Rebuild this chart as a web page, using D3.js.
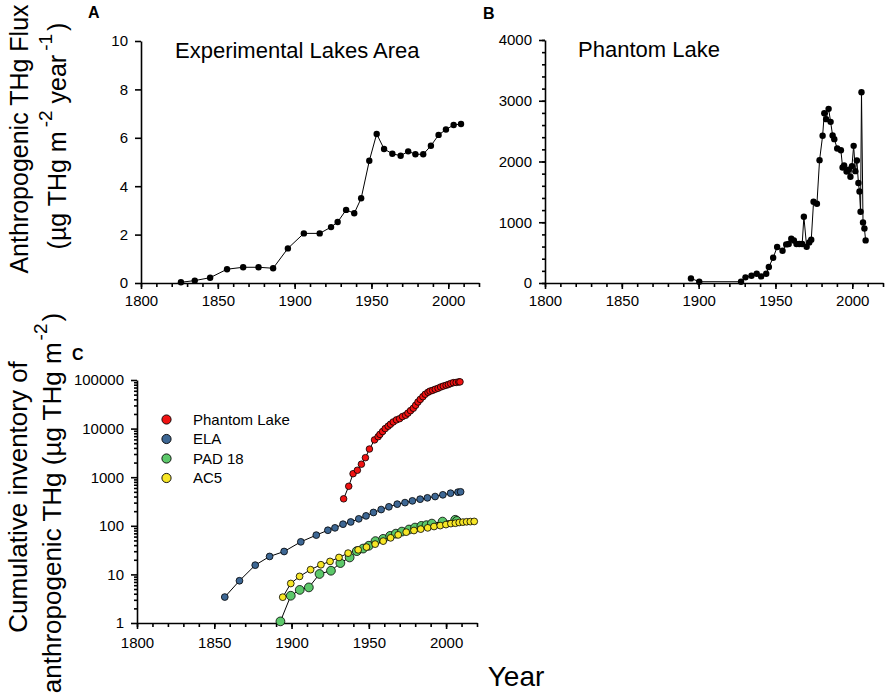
<!DOCTYPE html>
<html>
<head>
<meta charset="utf-8">
<script src="https://cdn.jsdelivr.net/npm/d3@7"></script>
<style>
  body { margin: 0; background: #fff; }
  svg { font-family: "Liberation Sans", Arial, sans-serif; }
  .axis path, .axis line { stroke: #000; stroke-width: 1.6; }
  .axis text { font-size: 15px; fill: #000; font-family: "Liberation Sans", Arial, sans-serif; }
</style>
</head>
<body>
<svg id="fig" width="886" height="693"></svg>
<script>
// Data -----------------------------------------
// A: Experimental Lakes Area flux (ug THg m-2 yr-1)
var elaYears = [1826, 1835, 1845, 1856, 1866.5, 1876.5, 1886, 1895.6, 1906, 1916.3, 1923.7, 1928,
  1933.5, 1938.8, 1943.3, 1948.6, 1953.4, 1958.2, 1963.6, 1969, 1973.9, 1978.6, 1983.7, 1988.7,
  1993.7, 1998.5, 2003.5, 2008.3];
var elaFlux = [0.03, 0.1, 0.22, 0.57, 0.65, 0.65, 0.61, 1.43, 2.05, 2.05, 2.31, 2.52,
  3.02, 2.88, 3.5, 5.05, 6.16, 5.54, 5.34, 5.26, 5.44, 5.32, 5.32, 5.67,
  6.12, 6.34, 6.53, 6.57];

// B: Phantom Lake flux
var phantomYears = [1895, 1900.4, 1927.6, 1930.5, 1934.4, 1937.8, 1940.7, 1944, 1945.7, 1948.5,
  1951.1, 1954.6, 1957, 1958.6, 1960.3, 1962, 1963.7, 1965.5, 1967.4, 1968.5, 1970.3, 1972,
  1973.3, 1974.8, 1977, 1978.7, 1980.7, 1981.8, 1983, 1984.6, 1985.9, 1987.2, 1988.3, 1990.2,
  1992.6, 1993.7, 1994.7, 1996.3, 1997.6, 1998.8, 1999.8, 2000.9, 2002, 2003, 2004, 2004.7,
  2005.4, 2006, 2007, 2007.9, 2008.7];
var phantomFlux = [76, 21, 21, 93, 120, 153, 109, 153, 263, 416,
  592, 531, 635, 641, 729, 700, 641, 641, 641, 1090, 597, 668,
  712, 1337, 1305, 2022, 2423, 2796, 2697, 2867, 2653, 2428, 2368, 2214,
  2184, 1901, 1934, 1836, 1863, 1748, 1924, 2258, 1841, 2017, 1645, 1507,
  1173, 3141, 997, 898, 701];

// C: cumulative inventories (ug THg m-2)
var cumPhantomYears = [1933.7, 1937, 1939.8, 1942.6, 1945.2, 1947.8, 1950.4, 1953.7, 1956, 1957.2,
  1958.9, 1960.6, 1962.5, 1964, 1965.8, 1967.9, 1969.9, 1971.8, 1973.8, 1975.3, 1977, 1978.8,
  1980.3, 1981.8, 1983.3, 1985, 1986.5, 1988.3, 1989.6, 1991.3, 1993, 1994.8, 1996.5, 1998.2,
  2000, 2001.5, 2003, 2004.7, 2006.5, 2008.2, 2009];
var cumPhantom = [359, 651, 1180, 1390, 1850, 2520, 3800, 5850, 6800, 7600,
  8700, 10000, 11200, 12300, 13700, 15100, 16000, 17700, 18800, 20800, 23400, 26200,
  30200, 35300, 39900, 45400, 50900, 55900, 59000, 61200, 64500, 67600, 71700, 74900,
  77900, 81000, 84500, 88100, 89000, 91300, 91500];

var cumElaYears = [1856.8, 1866.3, 1876.5, 1885.8, 1895.2, 1906, 1916, 1923.5, 1928.1, 1933.3,
  1938.3, 1943.5, 1948.2, 1953, 1958, 1963, 1968.4, 1973.4, 1978.2, 1983.2, 1987.9, 1992.9,
  1997.9, 2002.9, 2007.7, 2009.4];
var cumEla = [3.42, 7.4, 15.5, 23.4, 29.6, 46.8, 64.3, 81, 90.7, 108,
  120, 139, 160, 188, 216, 246, 279, 300, 326, 353, 376, 400,
  434, 469, 492, 500];

var cumPadYears = [1892.8, 1899.5, 1905.3, 1911.2, 1918.1, 1925.5, 1931.6, 1937.6, 1942.2, 1946.3,
  1950, 1954.3, 1959.3, 1963.8, 1967.5, 1971.4, 1976, 1979.9, 1984, 1987.3, 1990.8, 1997.7,
  2005.9, 2007];
var cumPad = [1.08, 3.64, 4.8, 5.4, 10.2, 11.9, 17.1, 22.3, 30.1, 34,
  38.9, 48.4, 53.9, 62, 69, 76, 83.9, 92, 99.6, 103, 111, 122,
  133, 126];

var cumAc5Years = [1894.3, 1899.5, 1905.2, 1912.3, 1919, 1924.9, 1930.7, 1936.6, 1943.1, 1948.5,
  1954.1, 1959.3, 1964.1, 1969, 1974.2, 1979.2, 1983.6, 1988.1, 1992.2, 1996.2, 1999.9, 2003.1,
  2006, 2008.5, 2010.9, 2013.3, 2015.7, 2018.2];
var cumAc5 = [3.4, 6.5, 9.1, 12.5, 15.8, 18.5, 22.3, 27.4, 32, 36.5,
  42, 48.4, 56.5, 65, 74, 80, 85.5, 90.7, 96.6, 101, 106, 111,
  113, 117, 119, 121, 122, 123];

// Ticks
var yearTicks = [1800, 1850, 1900, 1950, 2000];
var yearMinor = d3.range(1800, 2021, 10);
var fluxTicksA = [0, 2, 4, 6, 8, 10];
var fluxTicksB = [0, 1000, 2000, 3000, 4000];
var fluxMinorB = d3.range(0, 4001, 200);
var logTicks = [1, 10, 100, 1000, 10000, 100000];

var seriesC = [
  { name: "ELA", years: cumElaYears, values: cumEla, color: "#3d6794", r: 3.4 },
  { name: "PAD 18", years: cumPadYears, values: cumPad, color: "#5cc86a", r: 4.4 },
  { name: "AC5", years: cumAc5Years, values: cumAc5, color: "#f7e626", r: 3.4 },
  { name: "Phantom Lake", years: cumPhantomYears, values: cumPhantom, color: "#f01212", r: 3.3 }
];
var legendOrder = ["Phantom Lake", "ELA", "PAD 18", "AC5"];

var svg = d3.select("#fig");

// Scales ---------------------------------------
var xA = d3.scaleLinear().domain([1800, 2020]).range([141, 479]);
var yA = d3.scaleLinear().domain([0, 10]).range([283, 41]);
var xB = d3.scaleLinear().domain([1800, 2020]).range([545, 883]);
var yB = d3.scaleLinear().domain([0, 4000]).range([283, 40]);
var xC = d3.scaleLinear().domain([1800, 2020]).range([137, 477]);
var yC = d3.scaleLog().domain([1, 100000]).range([623, 380]);

var logMinor = [];
[1, 10, 100, 1000, 10000].forEach(function(d) {
  for (var k = 2; k <= 9; k++) logMinor.push(d * k);
});

// Axes -----------------------------------------
function xAxis(x, y0, pad) {
  svg.append("g").attr("class", "axis")
    .attr("transform", "translate(0," + y0 + ")")
    .call(d3.axisBottom(x).tickValues(yearMinor).tickSize(4).tickFormat(""))
    .select(".domain").remove();
  svg.append("g").attr("class", "axis")
    .attr("transform", "translate(0," + y0 + ")")
    .call(d3.axisBottom(x).tickValues(yearTicks).tickSize(6).tickSizeOuter(0)
      .tickPadding(pad).tickFormat(d3.format("d")));
}

function yAxis(y, x0, ticks, minor, fmt) {
  if (minor) {
    svg.append("g").attr("class", "axis")
      .attr("transform", "translate(" + x0 + ",0)")
      .call(d3.axisLeft(y).tickValues(minor).tickSize(3).tickFormat(""))
      .select(".domain").remove();
  }
  svg.append("g").attr("class", "axis")
    .attr("transform", "translate(" + x0 + ",0)")
    .call(d3.axisLeft(y).tickValues(ticks).tickSize(6).tickSizeOuter(0)
      .tickPadding(7).tickFormat(fmt));
}

xAxis(xA, 283, 6);
yAxis(yA, 141, fluxTicksA, null, d3.format("d"));
xAxis(xB, 283, 6);
yAxis(yB, 545, fluxTicksB, fluxMinorB, d3.format("d"));
xAxis(xC, 623, 8);
yAxis(yC, 137, logTicks, logMinor, d3.format("d"));

// Panel A / B series ---------------------------
function blackSeries(x, y, years, vals) {
  var pts = years.map(function(d, i) { return [d, vals[i]]; });
  svg.append("path")
    .datum(pts)
    .attr("fill", "none")
    .attr("stroke", "#000")
    .attr("stroke-width", 1)
    .attr("d", d3.line().x(function(d) { return x(d[0]); }).y(function(d) { return y(d[1]); }));
  svg.append("g").selectAll("circle")
    .data(pts)
    .enter()
    .append("circle")
    .attr("cx", function(d) { return x(d[0]); })
    .attr("cy", function(d) { return y(d[1]); })
    .attr("r", 3.2)
    .attr("fill", "#000");
}

blackSeries(xA, yA, elaYears, elaFlux);
blackSeries(xB, yB, phantomYears, phantomFlux);

// Panel C series -------------------------------
seriesC.forEach(function(s) {
  var pts = s.years.map(function(d, i) { return [d, s.values[i]]; });
  svg.append("path")
    .datum(pts)
    .attr("fill", "none")
    .attr("stroke", "#000")
    .attr("stroke-width", 1)
    .attr("d", d3.line().x(function(d) { return xC(d[0]); }).y(function(d) { return yC(d[1]); }));
});
seriesC.forEach(function(s) {
  var pts = s.years.map(function(d, i) { return [d, s.values[i]]; });
  svg.append("g").selectAll("circle")
    .data(pts)
    .enter()
    .append("circle")
    .attr("cx", function(d) { return xC(d[0]); })
    .attr("cy", function(d) { return yC(d[1]); })
    .attr("r", s.r)
    .attr("fill", s.color)
    .attr("stroke", "#000")
    .attr("stroke-width", 0.8);
});

// Legend ---------------------------------------
var leg = svg.append("g").selectAll("g")
  .data(legendOrder)
  .enter()
  .append("g")
  .attr("transform", function(d, i) { return "translate(166.5," + (419.5 + i * 19.5) + ")"; });
leg.append("circle")
  .attr("r", 4.6)
  .attr("fill", function(d) { return seriesC.filter(function(s) { return s.name == d; })[0].color; })
  .attr("stroke", "#000")
  .attr("stroke-width", 0.9);
leg.append("text")
  .attr("x", 26.5)
  .attr("dy", "0.36em")
  .style("font-size", "15px")
  .text(function(d) { return d; });

// Texts ----------------------------------------
function label(x, y, txt, size, weight) {
  return svg.append("text").attr("x", x).attr("y", y)
    .style("font-size", size + "px").style("font-weight", weight || "normal").text(txt);
}
label(88, 18, "A", 16, "bold");
label(483, 19, "B", 16, "bold");
label(72, 360, "C", 16, "bold");
label(175, 58, "Experimental Lakes Area", 22);
label(578, 57, "Phantom Lake", 22);
label(516, 686, "Year", 28).attr("text-anchor", "middle");

// Rotated y labels
svg.append("text")
  .attr("transform", "translate(28,139) rotate(-90)")
  .attr("text-anchor", "middle")
  .style("font-size", "25px")
  .text("Anthropogenic THg Flux");

var l2 = svg.append("text")
  .attr("transform", "translate(66,136) rotate(-90)")
  .attr("text-anchor", "middle")
  .style("font-size", "25px");
l2.append("tspan").text("(µg THg m");
l2.append("tspan").attr("dx", 4).attr("dy", -14).style("font-size", "19px").text("-2");
l2.append("tspan").attr("dy", 14).text(" year");
l2.append("tspan").attr("dx", 4).attr("dy", -14).style("font-size", "19px").text("-1");
l2.append("tspan").attr("dx", 3).attr("dy", 14).text(")");

svg.append("text")
  .attr("transform", "translate(27,497) rotate(-90)")
  .attr("text-anchor", "middle")
  .style("font-size", "26px")
  .text("Cumulative inventory of");

var l4 = svg.append("text")
  .attr("transform", "translate(61,503) rotate(-90)")
  .attr("text-anchor", "middle")
  .style("font-size", "26px");
l4.append("tspan").text("anthropogenic THg (µg THg m");
l4.append("tspan").attr("dx", 2).attr("dy", -14).style("font-size", "19px").text("-2");
l4.append("tspan").attr("dx", 2).attr("dy", 14).text(")");
</script>
</body>
</html>
